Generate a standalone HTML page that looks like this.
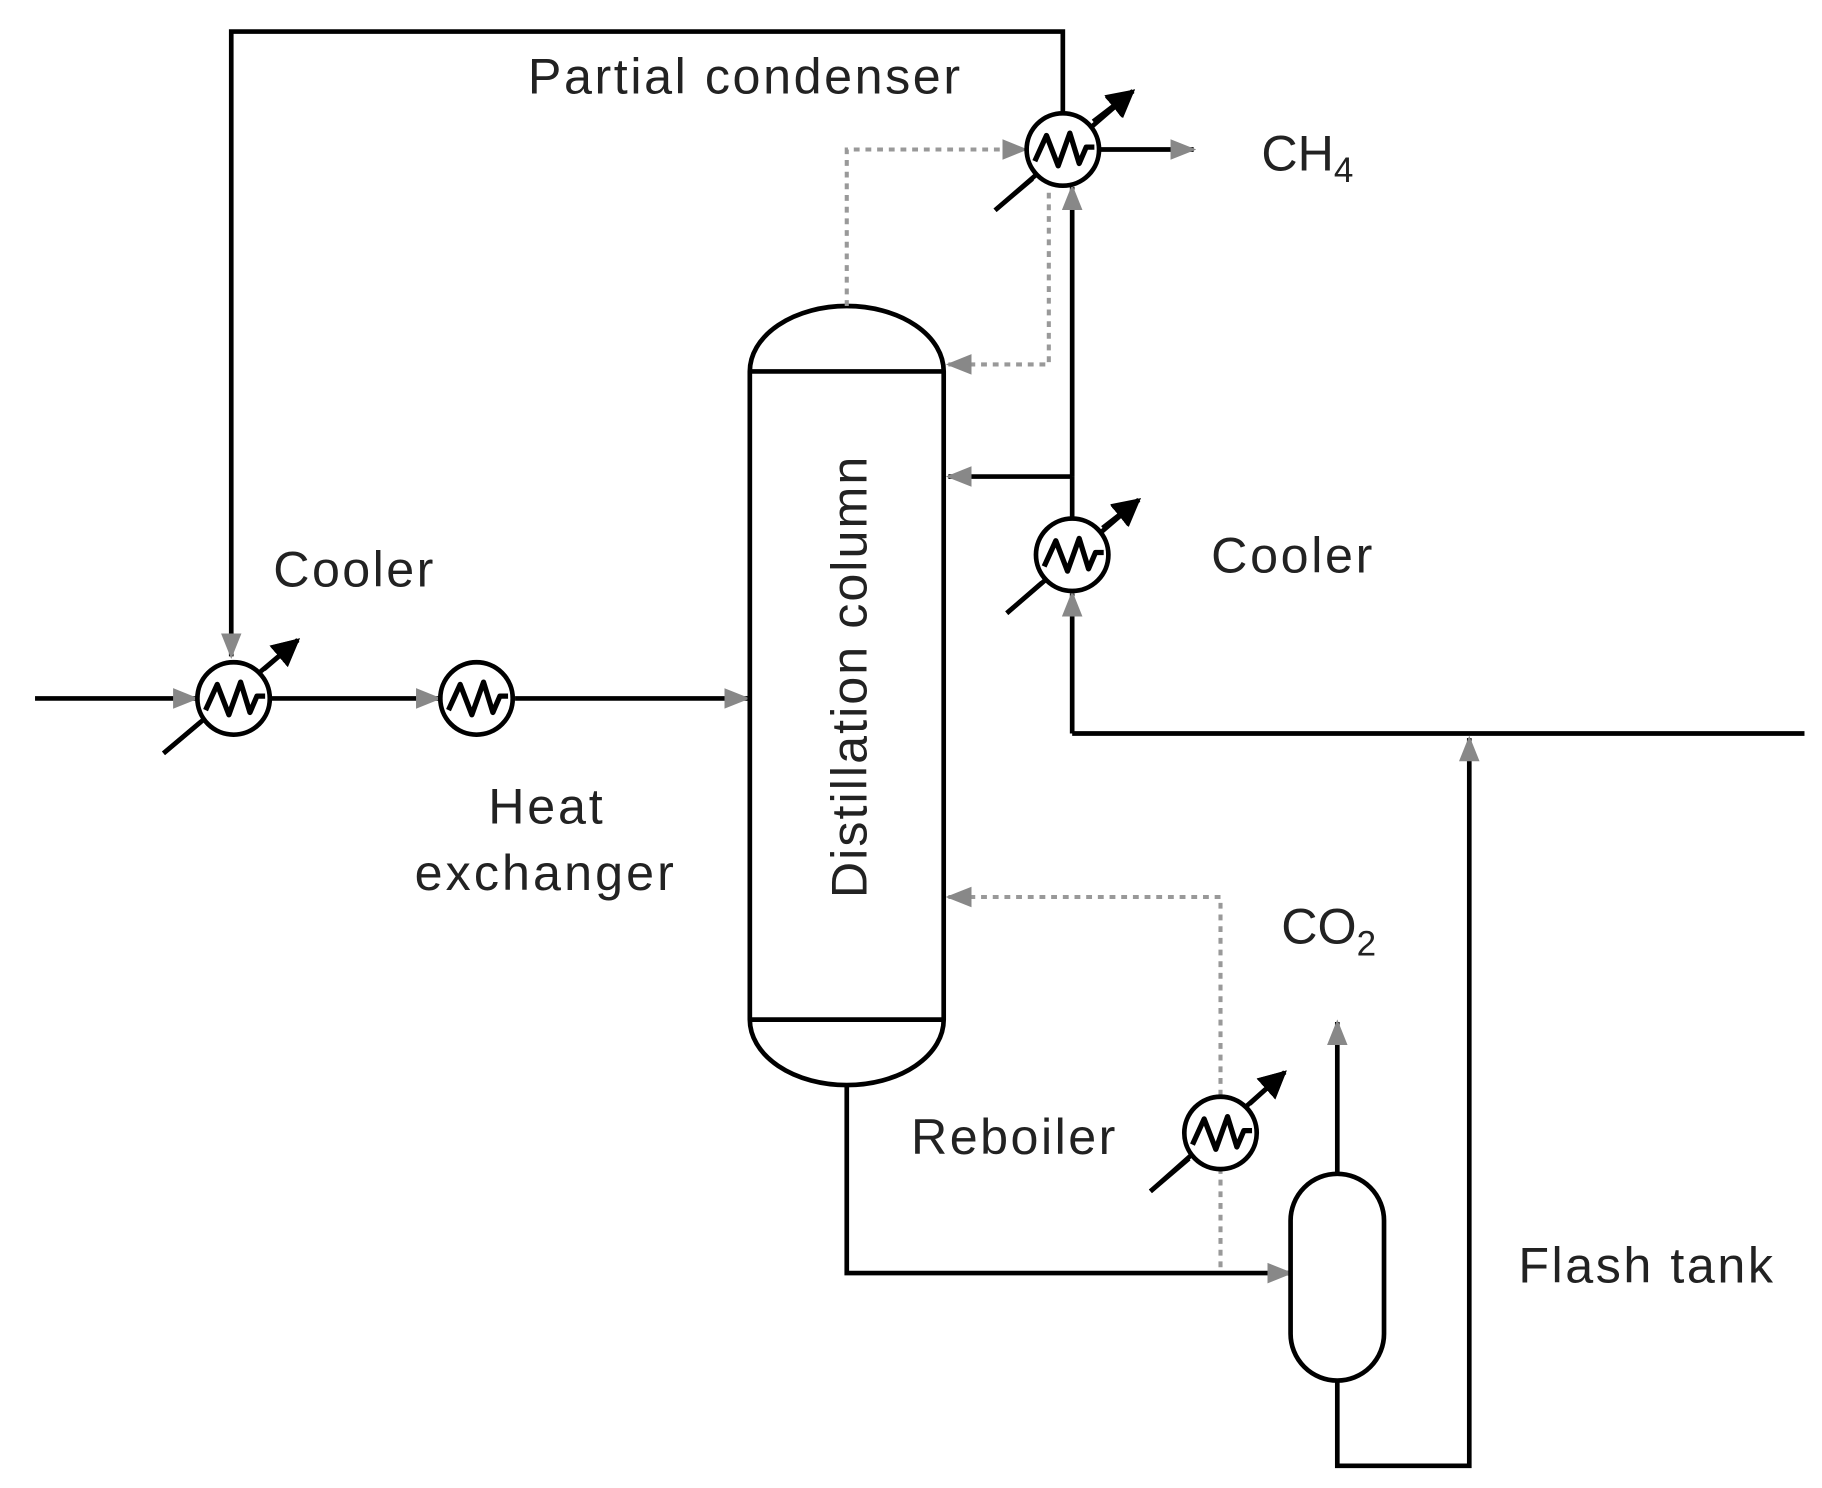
<!DOCTYPE html>
<html><head><meta charset="utf-8"><style>
html,body{margin:0;padding:0;background:#fff;}
svg{display:block;}
text{font-family:"Liberation Sans",sans-serif;font-size:43px;fill:#222;}
</style></head><body>
<svg width="1822" height="1488" viewBox="0 0 1560 1274" preserveAspectRatio="none" xmlns="http://www.w3.org/2000/svg">
<defs>
<marker id="ga" viewBox="0 0 10 10" refX="9" refY="5" markerWidth="22" markerHeight="22" markerUnits="userSpaceOnUse" orient="auto"><path d="M0,1 L10,5 L0,9 Z" fill="#888"/></marker>
<marker id="ba" viewBox="0 0 10 10" refX="9" refY="5" markerWidth="24" markerHeight="24" markerUnits="userSpaceOnUse" orient="auto"><path d="M0,0 L10,5 L0,10 Z" fill="#000"/></marker>
<g id="hx">
<circle cx="0" cy="0" r="31" fill="#fff" stroke="#000" stroke-width="4"/>
<path d="M-24,10 L-14,-12 L-4,14 L6,-14 L14,12 L20,-2 L27,-2" fill="none" stroke="#000" stroke-width="4.5" stroke-linejoin="round"/>
</g>
</defs>
<g stroke="#000" stroke-width="4" fill="none">
<path d="M140,645 L255,548" marker-end="url(#ba)"/>
<path d="M852,180 L970,78" marker-end="url(#ba)"/>
<path d="M862,525 L975,428" marker-end="url(#ba)"/>
<path d="M985,1020 L1100,918" marker-end="url(#ba)"/>
</g>
<g fill="none" stroke="#000" stroke-width="4">
<path d="M910,96 L910,27 L198,27 L198,562" marker-end="url(#ga)"/>
<path d="M30,598 L168,598" marker-end="url(#ga)"/>
<path d="M232,598 L376,598" marker-end="url(#ga)"/>
<path d="M441,598 L640,598" marker-end="url(#ga)"/>
<path d="M642,318 A83,56 0 0 1 808,318 L808,873 A83,56 0 0 1 642,873 Z" fill="#fff"/>
<path d="M642,318 L808,318 M642,873 L808,873"/>
<path d="M942,128 L1022,128" marker-end="url(#ga)"/>
<path d="M918,408 L918,160" marker-end="url(#ga)"/>
<path d="M918,408 L812,408" marker-end="url(#ga)"/>
<path d="M918,408 L918,444"/>
<path d="M918,628 L918,508" marker-end="url(#ga)"/>
<path d="M918,628 L1545,628"/>
<path d="M1145,1182 L1145,1255 L1258,1255 L1258,632" marker-end="url(#ga)"/>
<path d="M1145,1005 L1145,875" marker-end="url(#ga)"/>
<path d="M725,928 L725,1090 L1105,1090" marker-end="url(#ga)"/>
<rect x="1105" y="1005" width="80" height="177" rx="40" ry="40" fill="#fff"/>
</g>
<g fill="none" stroke="#999" stroke-width="3.5" stroke-dasharray="5,5">
<path d="M725,262 L725,128 L878,128" marker-end="url(#ga)"/>
<path d="M898,165 L898,312 L812,312" marker-end="url(#ga)"/>
<path d="M1045,1085 L1045,1002"/>
<path d="M1045,938 L1045,768 L812,768" marker-end="url(#ga)"/>
</g>
<use href="#hx" x="200" y="598"/>
<use href="#hx" x="408" y="598"/>
<use href="#hx" x="910" y="128"/>
<use href="#hx" x="918" y="475"/>
<use href="#hx" x="1045" y="970"/>
<g stroke="#000" stroke-width="4" fill="none">
<path d="M140,645 L172,618"/>
<path d="M852,180 L884,153"/>
<path d="M862,525 L892,499"/>
<path d="M985,1020 L1018,992"/>
<path d="M226,573 L255,548" marker-end="url(#ba)"/>
<path d="M936,104 L970,78" marker-end="url(#ba)"/>
<path d="M944,452 L975,428" marker-end="url(#ba)"/>
<path d="M1070,945 L1100,918" marker-end="url(#ba)"/>
</g>
<text x="452" y="80" textLength="370">Partial condenser</text>
<text x="1080" y="146">CH<tspan font-size="30" dy="10">4</tspan></text>
<text x="234" y="502" textLength="137">Cooler</text>
<text x="1037" y="490" textLength="138">Cooler</text>
<text x="418" y="705" textLength="98">Heat</text>
<text x="355" y="762" textLength="222">exchanger</text>
<text x="1097" y="808">CO<tspan font-size="30" dy="10">2</tspan></text>
<text x="780" y="988" textLength="175">Reboiler</text>
<text x="1300" y="1098" textLength="218">Flash tank</text>
<text transform="translate(742,580) rotate(-90)" text-anchor="middle" textLength="378">Distillation column</text>
</svg>
</body></html>
